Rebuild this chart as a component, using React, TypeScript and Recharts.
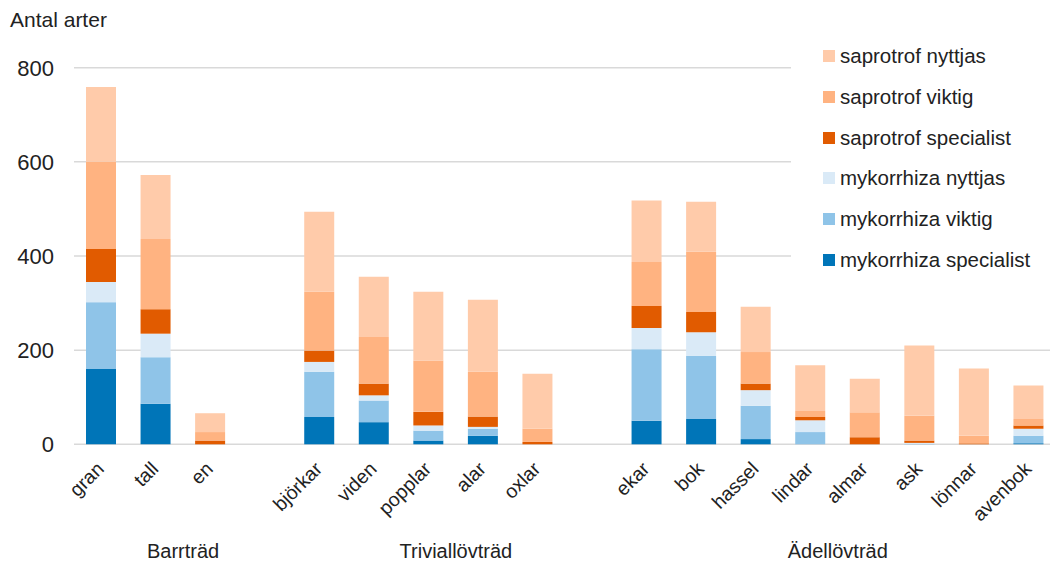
import React from "react";
import { BarChart, Bar, XAxis, YAxis, CartesianGrid } from "recharts";

const categories = ["gran", "tall", "en", "", "björkar", "viden", "popplar", "alar", "oxlar", "", "ekar", "bok", "hassel", "lindar", "almar", "ask", "lönnar", "avenbok"];

const mykSpecialist = [160, 86, 0, 0, 58, 47, 8, 18, 0, 0, 50, 54, 11, 0, 0, 0, 0, 2];
const mykViktig = [142, 99, 0, 0, 96, 46, 21, 15, 0, 0, 152, 134, 71, 26, 0, 1, 0, 16];
const mykNyttjas = [43, 50, 0, 0, 21, 11, 11, 4, 0, 0, 45, 50, 33, 25, 0, 2, 0, 15];
const sapSpecialist = [70, 52, 8, 0, 24, 25, 29, 22, 5, 0, 47, 43, 14, 7, 15, 5, 2, 7];
const sapViktig = [185, 149, 18, 0, 125, 99, 109, 95, 28, 0, 93, 128, 67, 13, 53, 53, 16, 14];
const sapNyttjas = [159, 136, 40, 0, 170, 128, 146, 153, 117, 0, 131, 106, 96, 97, 71, 149, 143, 71];

const yTicks = [0, 200, 400, 600, 800];

const groupNames = ["Barrträd", "Triviallövträd", "Ädellövträd"];
const groupFirst = [0, 4, 10];
const groupLast = [3, 9, 17];

const series = [
  { key: "mykSpecialist", name: "mykorrhiza specialist", values: mykSpecialist, color: "#0075B8" },
  { key: "mykViktig", name: "mykorrhiza viktig", values: mykViktig, color: "#8FC4E8" },
  { key: "mykNyttjas", name: "mykorrhiza nyttjas", values: mykNyttjas, color: "#DAEAF7" },
  { key: "sapSpecialist", name: "saprotrof specialist", values: sapSpecialist, color: "#E15B00" },
  { key: "sapViktig", name: "saprotrof viktig", values: sapViktig, color: "#FFB381" },
  { key: "sapNyttjas", name: "saprotrof nyttjas", values: sapNyttjas, color: "#FFCBAA" },
];

const data = categories.map((name, i) => {
  const row: any = { name };
  series.forEach((s) => {
    row[s.key] = s.values[i];
  });
  return row;
});

const FONT = "'Liberation Sans', Arial, Helvetica, sans-serif";
const TEXT = "#222222";
const CHART_W = 1060;
const MARGIN_R = 4;
const Y_W = 74;

const XTick = (props: any) => {
  const { x, y, payload, index } = props;
  const halfBand =
    payload && typeof payload.offset === "number" && payload.offset > 0
      ? payload.offset
      : (CHART_W - MARGIN_R - Y_W) / categories.length / 2;
  const g = groupFirst.indexOf(index);
  return (
    <g>
      {payload && payload.value ? (
        <g transform={`translate(${x - 1},${y + 21})`}>
          <text textAnchor="end" transform="rotate(-45)" fontSize={19.5} fill={TEXT} fontFamily={FONT} dy="0.35em">
            {payload.value}
          </text>
        </g>
      ) : null}
      {g >= 0 ? (
        <text
          x={x + (groupLast[g] - groupFirst[g]) * halfBand}
          y={y + 113.7}
          textAnchor="middle"
          fontSize={20}
          fill={TEXT}
          fontFamily={FONT}
        >
          {groupNames[g]}
        </text>
      ) : null}
    </g>
  );
};

export default function App() {
  const legendItems = [...series].reverse();
  return (
    <div style={{ position: "absolute", left: 0, top: 0, width: 1050, height: 562, overflow: "hidden", background: "#fff", fontFamily: FONT }}>
      <BarChart
        width={CHART_W}
        height={562}
        data={data}
        margin={{ top: 67.7, right: MARGIN_R, left: 0, bottom: 0 }}
        barSize={30}
      >
        <CartesianGrid vertical={false} stroke="#d9d9d9" strokeWidth={1.5} />
        <XAxis
          dataKey="name"
          interval={0}
          axisLine={false}
          tickLine={false}
          tickSize={0}
          tickMargin={0}
          height={117.7}
          tick={<XTick />}
        />
        <YAxis
          domain={[0, 800]}
          ticks={yTicks}
          axisLine={false}
          tickLine={false}
          tickSize={0}
          tickMargin={20}
          width={Y_W}
          tick={{ fontSize: 22, fill: TEXT, fontFamily: FONT }}
        />
        {series.map((s) => (
          <Bar key={s.key} dataKey={s.key} name={s.name} stackId="a" fill={s.color} isAnimationActive={false} />
        ))}
      </BarChart>
      <div style={{ position: "absolute", left: 10, top: 8.2, fontSize: 21, color: TEXT, lineHeight: "23px" }}>Antal arter</div>
      <div style={{ position: "absolute", left: 791, top: 35.6, width: 270, height: 250, background: "#fff" }}>
        {legendItems.map((s) => (
          <div key={s.key} style={{ height: 40.8, display: "flex", alignItems: "center" }}>
            <div style={{ width: 12, height: 12, background: s.color, marginLeft: 31.7, marginRight: 5.3 }} />
            <span style={{ fontSize: 20.5, color: TEXT, lineHeight: "20px" }}>{s.name}</span>
          </div>
        ))}
      </div>
    </div>
  );
}
